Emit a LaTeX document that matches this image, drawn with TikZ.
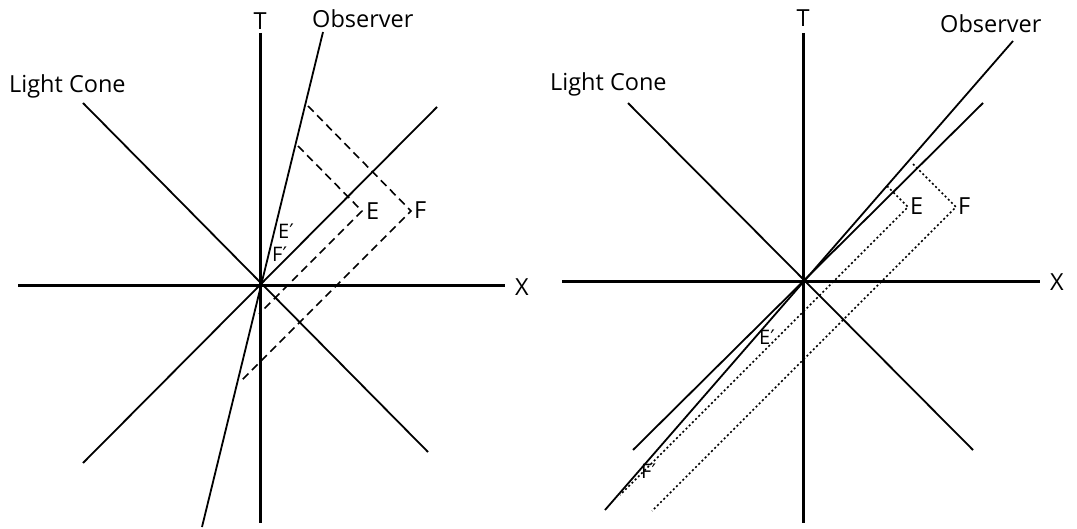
\documentclass[tikz,border=0pt]{standalone}
\usepackage{fontspec}
\setmainfont{Open Sans}
\newfontfamily\dvfont{DejaVu Sans}
\newcommand{\prm}{{\dvfont ′}}
\begin{document}
\begin{tikzpicture}[x=1pt,y=-1pt,
  axis/.style={line width=3pt},
  ln/.style={line width=1.8pt},
  dsh/.style={line width=1.6pt,dash pattern=on 8pt off 5pt},
  dot/.style={line width=1.5pt,dash pattern=on 2pt off 2.5pt},
  lbl/.style={font=\fontsize{23.5}{25}\selectfont,inner sep=0pt},
  sml/.style={font=\fontsize{20}{22}\selectfont,inner sep=0pt}]
\useasboundingbox (0,0) rectangle (1077,529);
% ---------- left diagram ----------
\coordinate (O1) at (260,286);
\coordinate (T1a) at (260,33);  \coordinate (T1b) at (260,523);
\coordinate (X1a) at (18,286);  \coordinate (X1b) at (505,286);
\coordinate (L1a) at (83,103);  \coordinate (L1b) at (428,452);
\coordinate (L1c) at (83,463);  \coordinate (L1d) at (437,107);
\coordinate (B1a) at (323,32);  \coordinate (B1b) at (202,527);
\coordinate (E1) at (362,211);  \coordinate (F1) at (411,211);
\coordinate (E1u) at (298,146); \coordinate (F1u) at (308,106);
\coordinate (E1d) at (259,314); \coordinate (F1d) at (241,381);
\draw[axis] (T1a) -- (T1b);
\draw[axis] (X1a) -- (X1b);
\draw[ln] (L1a) -- (L1b);
\draw[ln] (L1c) -- (L1d);
\draw[ln] (B1a) -- (B1b);
\draw[dsh] (E1u) -- (E1) -- (E1d);
\draw[dsh] (F1u) -- (F1) -- (F1d);
\node[lbl,anchor=base] (t1) at (260,30) {T};
\node[lbl,anchor=base west] (x1) at (515,296) {X};
\node[lbl,anchor=base west] (lc1) at (9,93) {Light Cone};
\node[lbl,anchor=base west] (ob1) at (312,28) {Observer};
\node[lbl,anchor=base west] (e1) at (366,220) {E};
\node[lbl,anchor=base west] (f1) at (414,219) {F};
\node[sml,anchor=base west] (e1p) at (278,239) {E\prm};
\node[sml,anchor=base west] (f1p) at (272,262) {F\prm};
% ---------- right diagram ----------
\coordinate (O2) at (803,282);
\coordinate (T2a) at (803,33);  \coordinate (T2b) at (803,523);
\coordinate (X2a) at (562,282); \coordinate (X2b) at (1040,282);
\coordinate (L2a) at (628,103); \coordinate (L2b) at (973,450);
\coordinate (L2c) at (633,450); \coordinate (L2d) at (983,103);
\coordinate (B2a) at (1013,41); \coordinate (B2b) at (605,510);
\coordinate (E2) at (908,207);  \coordinate (F2) at (956,207);
\coordinate (E2u) at (887,186); \coordinate (F2u) at (913,164);
\coordinate (E2d) at (620,495); \coordinate (F2d) at (652,511);
\draw[axis] (T2a) -- (T2b);
\draw[axis] (X2a) -- (X2b);
\draw[ln] (L2a) -- (L2b);
\draw[ln] (L2c) -- (L2d);
\draw[ln] (B2a) -- (B2b);
\draw[dot] (E2u) -- (E2) -- (E2d);
\draw[dot] (F2u) -- (F2) -- (F2d);
\node[lbl,anchor=base] (t2) at (803,27) {T};
\node[lbl,anchor=base west] (x2) at (1050,291) {X};
\node[lbl,anchor=base west] (lc2) at (550,91) {Light Cone};
\node[lbl,anchor=base west] (ob2) at (940,33) {Observer};
\node[lbl,anchor=base west] (e2) at (910,215) {E};
\node[lbl,anchor=base west] (f2) at (958,215) {F};
\node[sml,anchor=base west] (e2p) at (759,345) {E\prm};
\node[sml,anchor=base west] (f2p) at (641,478) {F\prm};
\end{tikzpicture}
\end{document}
